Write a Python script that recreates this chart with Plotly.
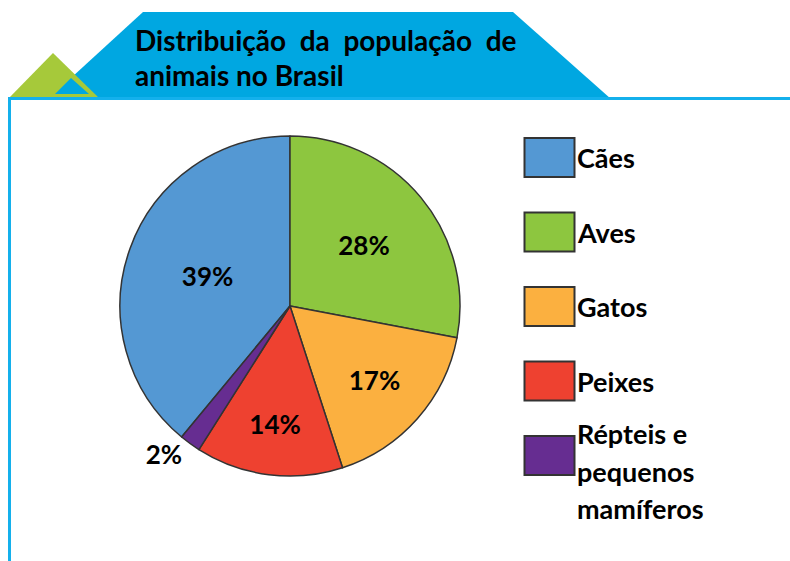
import plotly.graph_objects as go

# ---- data ----
categories = ["Cães", "Aves", "Gatos", "Peixes", "Répteis e pequenos mamíferos"]
values = [39, 28, 17, 14, 2]
colors = ["#5498d3", "#8dc63f", "#fbb040", "#ee4130", "#662d91"]
legend_lines = [["Cães"], ["Aves"], ["Gatos"], ["Peixes"], ["Répteis e", "pequenos", "mamíferos"]]
title_lines = ["Distribuição&nbsp;&nbsp;da&nbsp;&nbsp;população&nbsp;&nbsp;de", "animais no Brasil"]

W, H = 790, 561
FONT = "Lato"


def px(x):
    return x / W


def py(y):
    return 1 - y / H


total = sum(values)
# first slice (Cães) ends at 12 o'clock going clockwise
rotation = 360 * (total - values[0]) / total
if rotation > 180:
    rotation -= 360

textpos = ["inside" if v >= 5 else "outside" for v in values]

fig = go.Figure()
fig.add_trace(go.Pie(
    labels=categories,
    values=values,
    sort=False,
    direction="clockwise",
    rotation=rotation,
    marker=dict(colors=colors, line=dict(color="#333333", width=1.5)),
    texttemplate="%{value}%",
    textposition=textpos,
    insidetextorientation="horizontal",
    textfont=dict(family=FONT, size=26, color="black", weight="bold"),
    showlegend=False,
    hoverinfo="label+percent",
    domain=dict(x=[px(120), px(460)], y=[py(476), py(136)]),
))

shapes = []
# header trapezoid
shapes.append(dict(type="path", xref="paper", yref="paper",
                   path=f"M {px(143)} {py(12)} L {px(513)} {py(12)} L {px(611)} {py(99)} L {px(48)} {py(99)} Z",
                   fillcolor="#00a7e1", line=dict(width=0), layer="below"))
# green triangle
shapes.append(dict(type="path", xref="paper", yref="paper",
                   path=f"M {px(8)} {py(99)} L {px(53)} {py(53)} L {px(100)} {py(99)} Z",
                   fillcolor="#a6c93a", line=dict(width=0), layer="below"))
# inner blue triangle
shapes.append(dict(type="path", xref="paper", yref="paper",
                   path=f"M {px(55)} {py(94)} L {px(71)} {py(78)} L {px(89)} {py(94)} Z",
                   fillcolor="#00a7e1", line=dict(width=0), layer="below"))
# frame lines
shapes.append(dict(type="line", xref="paper", yref="paper",
                   x0=px(8), x1=px(790), y0=py(98.5), y1=py(98.5),
                   line=dict(color="#14b0ec", width=3)))
shapes.append(dict(type="line", xref="paper", yref="paper",
                   x0=px(9.5), x1=px(9.5), y0=py(97), y1=py(561),
                   line=dict(color="#14b0ec", width=3)))

annotations = []
for i, t in enumerate(title_lines):
    annotations.append(dict(xref="paper", yref="paper", x=px(133), y=py(40 + 35 * i),
                            xanchor="left", yanchor="middle", showarrow=False, text=t,
                            font=dict(family=FONT, size=28, color="black", weight="bold")))

# custom legend
for i, (c, lines) in enumerate(zip(colors, legend_lines)):
    top = 138 + i * 74.5
    shapes.append(dict(type="rect", xref="paper", yref="paper",
                       x0=px(524.5), x1=px(574.5), y0=py(top), y1=py(top + 39),
                       fillcolor=c, line=dict(color="#333333", width=2)))
    n = len(lines)
    center = top + 19.5 if n == 1 else 471
    for j, ln in enumerate(lines):
        yc = center + (j - (n - 1) / 2) * 37
        annotations.append(dict(xref="paper", yref="paper", x=px(575), y=py(yc),
                                xanchor="left", yanchor="middle", showarrow=False, text=ln,
                                font=dict(family=FONT, size=27, color="black", weight="bold")))

fig.update_layout(
    width=W, height=H,
    margin=dict(l=0, r=0, t=0, b=0),
    paper_bgcolor="white",
    plot_bgcolor="white",
    shapes=shapes,
    annotations=annotations,
)

fig.write_html("out.html", config={"displayModeBar": False},
               post_script="document.body.style.margin='0';")
